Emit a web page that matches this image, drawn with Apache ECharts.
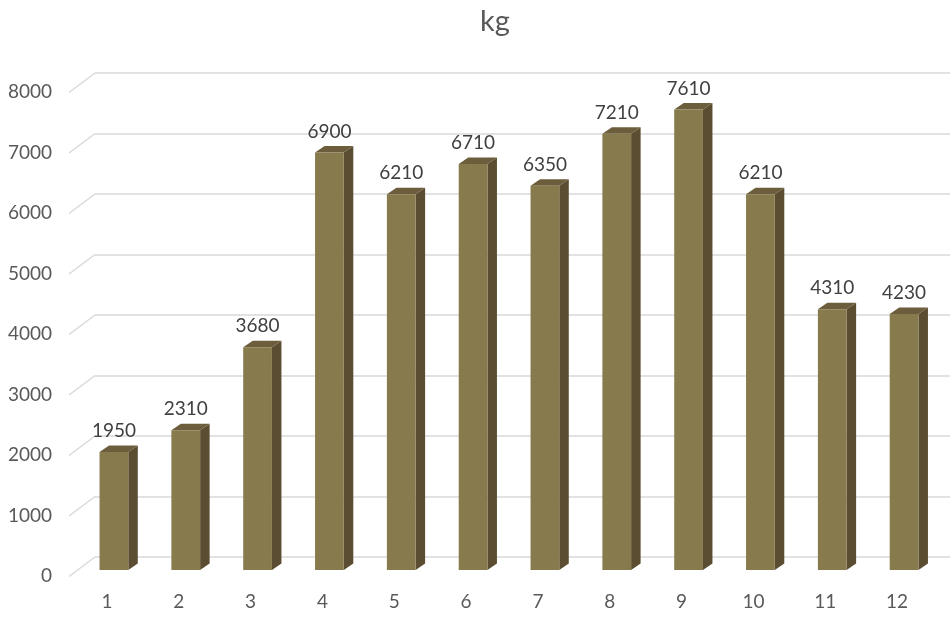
<!DOCTYPE html>
<html>
<head>
<meta charset="utf-8">
<script src="https://cdn.jsdelivr.net/npm/echarts@6/dist/echarts.min.js"></script>
<style>html,body{margin:0;padding:0;background:#fff}#chart{width:950px;height:617px}</style>
</head>
<body>
<div id="chart"></div>
<script>
const titleText = 'kg';
const categories = ['1','2','3','4','5','6','7','8','9','10','11','12'];
const values = [1950, 2310, 3680, 6900, 6210, 6710, 6350, 7210, 7610, 6210, 4310, 4230];
const yTicks = [0, 1000, 2000, 3000, 4000, 5000, 6000, 7000, 8000];
const yMin = 0, yMax = 8000, yInterval = 1000;

const FONT = 'Lato';
const DEPTH_X = 9.5, DEPTH_Y = -6.5;
const WALL_DX = -26, WALL_DY = 19.5;

const chart = echarts.init(document.getElementById('chart'), null, {renderer: 'canvas'});

const option = {
  backgroundColor: '#ffffff',
  animation: false,
  title: {
    text: titleText,
    left: 475, top: 2,
    textStyle: {fontFamily: FONT, fontSize: 29, fontWeight: 'normal', color: '#595959'}
  },
  grid: [
    {left: 95, top: 73, width: 862, height: 484},
    {left: 78, top: 86, width: 862, height: 484},
    {left: 71, top: 92, width: 862, height: 484}
  ],
  xAxis: [
    {gridIndex: 0, type: 'category', data: categories, axisLine: {show: false}, axisTick: {show: false}, axisLabel: {show: false}, splitLine: {show: false}},
    {gridIndex: 1, type: 'category', data: categories, show: false},
    {gridIndex: 2, type: 'category', data: categories, axisLine: {show: false}, axisTick: {show: false},
     axisLabel: {show: true, margin: 16, fontFamily: FONT, fontSize: 19, color: '#595959'}, splitLine: {show: false}}
  ],
  yAxis: [
    {gridIndex: 0, type: 'value', min: yMin, max: yMax, interval: yInterval,
     axisLine: {show: false}, axisTick: {show: false}, axisLabel: {show: false},
     splitLine: {show: true, lineStyle: {color: '#d9d9d9', width: 1.5}}},
    {gridIndex: 1, type: 'value', min: yMin, max: yMax, interval: yInterval, show: false},
    {gridIndex: 2, type: 'value', min: yMin, max: yMax, interval: yInterval,
     axisLine: {show: false}, axisTick: {show: false}, splitLine: {show: false},
     axisLabel: {show: true, margin: 19, fontFamily: FONT, fontSize: 19, color: '#595959',
                 formatter: function (v) { return String(v); }}}
  ],
  series: [
    {
      type: 'custom', xAxisIndex: 0, yAxisIndex: 0, silent: true,
      data: yTicks.map(v => [0, v]),
      renderItem: function (params, api) {
        const p = api.coord([0, api.value(1)]);
        const x0 = params.coordSys.x;
        return {
          type: 'line',
          shape: {x1: x0, y1: p[1], x2: x0 + WALL_DX, y2: p[1] + WALL_DY},
          style: {stroke: '#d9d9d9', lineWidth: 1.5}
        };
      }
    },
    {
      type: 'custom', xAxisIndex: 1, yAxisIndex: 1, silent: true,
      data: values.map((v, i) => [i, v]),
      renderItem: function (params, api) {
        const top = api.coord([api.value(0), api.value(1)]);
        const base = api.coord([api.value(0), 0]);
        const bw = api.size([1, 0])[0] * 0.4;
        const xl = top[0] - bw / 2, xr = top[0] + bw / 2;
        const yt = top[1], yb = base[1];
        return {
          type: 'group',
          children: [
            {type: 'polygon', shape: {points: [[xr, yt], [xr + DEPTH_X, yt + DEPTH_Y], [xr + DEPTH_X, yb + DEPTH_Y], [xr, yb]]},
             style: {fill: '#5b4d31'}},
            {type: 'polygon', shape: {points: [[xl, yt], [xl + DEPTH_X, yt + DEPTH_Y], [xr + DEPTH_X, yt + DEPTH_Y], [xr, yt]]},
             style: {fill: '#6c5d3c'}},
            {type: 'rect', shape: {x: xl, y: yt, width: bw, height: yb - yt},
             style: {fill: '#877a4c'}},
            {type: 'text', x: top[0], y: yt + DEPTH_Y - 5,
             style: {text: String(api.value(1)), fill: '#404040', font: '19px ' + FONT, align: 'center', verticalAlign: 'bottom'}}
          ]
        };
      }
    }
  ]
};
chart.setOption(option);
</script>
</body>
</html>
